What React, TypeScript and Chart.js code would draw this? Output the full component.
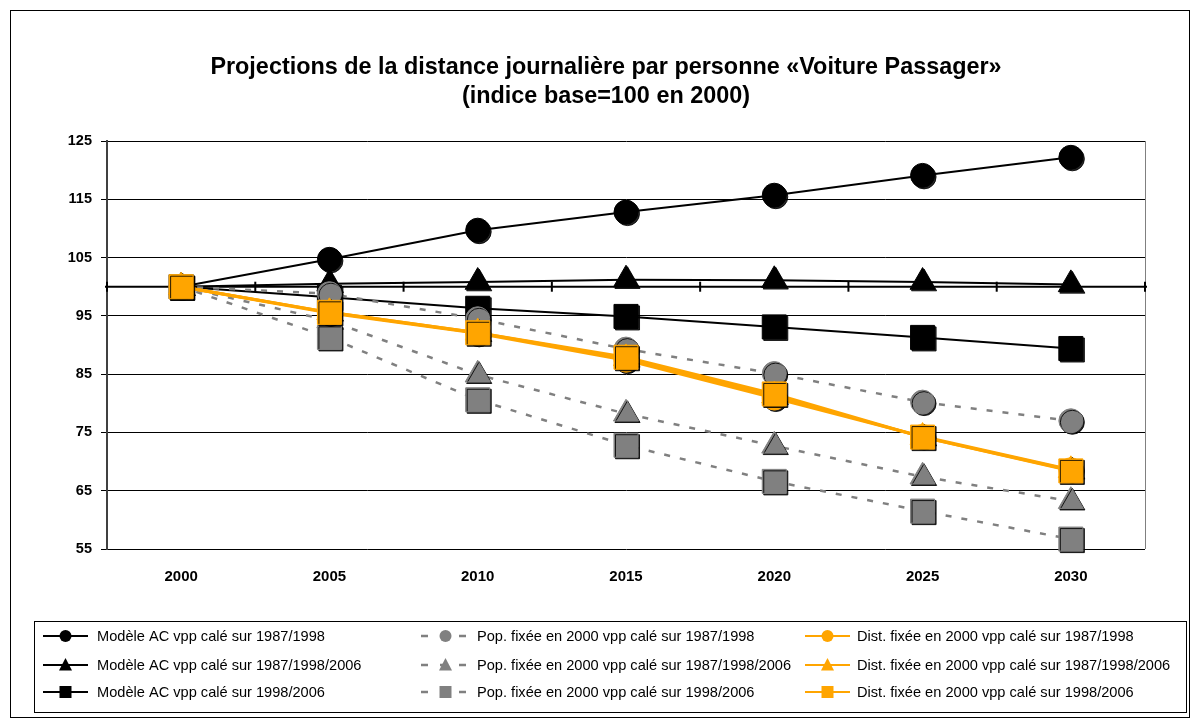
import React, { useEffect, useRef } from 'react';
import { Chart, registerables } from 'chart.js';

Chart.register(...registerables);

const FONT = '"Liberation Sans", Arial, Helvetica, sans-serif';

const titleLines = [
  'Projections de la distance journalière par personne «Voiture Passager»',
  '(indice base=100 en 2000)',
];

const years = ['2000', '2005', '2010', '2015', '2020', '2025', '2030'];
const yMin = 55;
const yMax = 125;
const yStep = 10;
const baseValue = 100;

const modeleCircle = [100, 104.7, 109.7, 112.8, 115.7, 119.1, 122.2];
const modeleTriangle = [100, 100.5, 100.8, 101.2, 101.1, 100.8, 100.4];
const modeleSquare = [100, 98.2, 96.3, 94.9, 93.1, 91.3, 89.4];
const popCircle = [100, 98.8, 94.5, 89.3, 85.1, 80.2, 77.0];
const popTriangle = [100, 94.2, 84.9, 78.2, 72.7, 67.4, 63.2];
const popSquare = [100, 91.3, 80.6, 72.8, 66.6, 61.5, 56.7];
const distCircle = [100, 95.5, 92.0, 87.4, 80.9, 74.3, 68.6];
const distTriangle = [100, 95.6, 92.1, 87.7, 81.3, 74.2, 68.5];
const distSquare = [100, 95.6, 92.1, 87.9, 81.6, 74.2, 68.4];

const labels = [
  'Modèle AC vpp calé sur 1987/1998',
  'Modèle AC vpp calé sur 1987/1998/2006',
  'Modèle AC vpp calé sur 1998/2006',
  'Pop. fixée en 2000 vpp calé sur 1987/1998',
  'Pop. fixée en 2000 vpp calé sur 1987/1998/2006',
  'Pop. fixée en 2000 vpp calé sur 1998/2006',
  'Dist. fixée en 2000 vpp calé sur 1987/1998',
  'Dist. fixée en 2000 vpp calé sur 1987/1998/2006',
  'Dist. fixée en 2000 vpp calé sur 1998/2006',
];

const seriesData = [
  modeleCircle, modeleTriangle, modeleSquare,
  popCircle, popTriangle, popSquare,
  distCircle, distTriangle, distSquare,
];

const BLACK = '#000000';
const GRAY = '#808080';
const ORANGE = '#FFA500';

type Style = { color: string; width: number; dash: number[]; marker: string; r: number };
const markerR: Record<string, number> = { circle: 12, triangle: 14.5, rect: 17 };
const markers = ['circle', 'triangle', 'rect'];
const groupStyle = [
  { color: BLACK, width: 2, dash: [] as number[] },
  { color: GRAY, width: 2.5, dash: [6, 10] },
  { color: ORANGE, width: 3, dash: [] as number[] },
];
const styles: Style[] = seriesData.map((_, i) => {
  const g = groupStyle[Math.floor(i / 3)];
  const m = markers[i % 3];
  return { ...g, marker: m, r: markerR[m] };
});

function legendMarker(ctx: CanvasRenderingContext2D, marker: string, x: number, y: number, color: string) {
  ctx.save();
  ctx.fillStyle = color;
  ctx.beginPath();
  if (marker === 'circle') {
    ctx.arc(x, y, 6, 0, Math.PI * 2);
  } else if (marker === 'triangle') {
    ctx.moveTo(x, y - 7);
    ctx.lineTo(x + 6.5, y + 5.5);
    ctx.lineTo(x - 6.5, y + 5.5);
    ctx.closePath();
  } else {
    ctx.rect(x - 6, y - 6, 12, 12);
  }
  ctx.fill();
  ctx.restore();
}

const decorPlugin = {
  id: 'decor',
  beforeDatasetsDraw(chart: any) {
    const { ctx, chartArea } = chart;
    const xs = chart.scales.x;
    const ys = chart.scales.y;
    const y100 = ys.getPixelForValue(baseValue);
    ctx.save();
    ctx.strokeStyle = GRAY;
    ctx.lineWidth = 1;
    ctx.beginPath();
    ctx.moveTo(Math.round(chartArea.right) + 0.5, chartArea.top);
    ctx.lineTo(Math.round(chartArea.right) + 0.5, chartArea.bottom);
    ctx.stroke();
    ctx.strokeStyle = BLACK;
    ctx.lineWidth = 2;
    ctx.beginPath();
    ctx.moveTo(chartArea.left - 2, y100);
    ctx.lineTo(chartArea.right + 2, y100);
    ctx.stroke();
    const half = (xs.getPixelForValue(1) - xs.getPixelForValue(0)) / 2;
    for (let i = 0; i <= years.length; i++) {
      const x = i < years.length ? xs.getPixelForValue(i) - half : xs.getPixelForValue(years.length - 1) + half;
      ctx.beginPath();
      ctx.moveTo(x, y100 - 5);
      ctx.lineTo(x, y100 + 5);
      ctx.stroke();
    }
    ctx.restore();
  },
  beforeDatasetDraw(chart: any, args: any) {
    const meta = args.meta;
    meta.data.forEach((pt: any) => {
      if (!pt.__shadowed) {
        const orig = pt.draw;
        pt.draw = function (c: CanvasRenderingContext2D, area: any) {
          c.save();
          c.shadowColor = 'rgba(0,0,0,0.85)';
          c.shadowOffsetX = 1.5;
          c.shadowOffsetY = 1.5;
          c.shadowBlur = 0;
          orig.call(this, c, area);
          c.restore();
        };
        pt.__shadowed = true;
      }
    });
  },
  afterDraw(chart: any) {
    const { ctx } = chart;
    ctx.save();
    ctx.strokeStyle = BLACK;
    ctx.lineWidth = 1;
    ctx.strokeRect(10.5, 10.5, 1179, 707);
    ctx.fillStyle = BLACK;
    ctx.font = `bold 23.4px ${FONT}`;
    ctx.textAlign = 'center';
    ctx.textBaseline = 'middle';
    ctx.fillText(titleLines[0], 606, 68);
    ctx.fillText(titleLines[1], 606, 97);
    ctx.strokeRect(34.5, 621.5, 1152, 91);
    const lineStart = [43, 423, 805];
    const textX = [97, 477, 857];
    const rowY = [636, 665, 692];
    ctx.font = `14.6px ${FONT}`;
    ctx.textAlign = 'left';
    chart.data.datasets.forEach((ds: any, i: number) => {
      const col = Math.floor(i / 3);
      const row = i % 3;
      const st = styles[i];
      const y = rowY[row];
      const x0 = lineStart[col];
      const x1 = x0 + 45;
      ctx.save();
      ctx.strokeStyle = st.color;
      ctx.lineWidth = col === 1 ? 2.5 : 2;
      if (col === 1) ctx.setLineDash([7, 12]);
      ctx.beginPath();
      ctx.moveTo(col === 1 ? x0 - 2 : x0, y);
      ctx.lineTo(x1, y);
      ctx.stroke();
      ctx.restore();
      legendMarker(ctx, st.marker, (x0 + x1) / 2, y, st.color);
      ctx.fillStyle = BLACK;
      ctx.fillText(ds.label, textX[col], y + 1);
    });
    ctx.restore();
  },
};

export default function App() {
  const ref = useRef<HTMLCanvasElement | null>(null);
  useEffect(() => {
    if (!ref.current) return;
    const chart = new Chart(ref.current, {
      type: 'line',
      data: {
        labels: years,
        datasets: seriesData.map((d, i) => ({
          label: labels[i],
          data: d,
          borderColor: styles[i].color,
          backgroundColor: styles[i].color,
          borderWidth: styles[i].width,
          borderDash: styles[i].dash,
          pointStyle: styles[i].marker as any,
          pointRadius: styles[i].r,
          pointHoverRadius: styles[i].r,
          pointBackgroundColor: styles[i].color,
          pointBorderColor: styles[i].color,
          pointBorderWidth: 1,
          tension: 0,
          fill: false,
          clip: false as any,
          order: 9 - i,
        })),
      },
      options: {
        animation: false,
        responsive: true,
        maintainAspectRatio: false,
        layout: { padding: { left: 47, right: 48, top: 141, bottom: 129 } },
        plugins: {
          legend: { display: false },
          title: { display: false },
          tooltip: { enabled: false },
        },
        scales: {
          x: {
            type: 'category',
            offset: true,
            grid: { display: false, drawTicks: false },
            border: { display: false },
            ticks: { font: { family: FONT, size: 15, weight: 'bold' }, color: BLACK, padding: 19, maxRotation: 0 },
            afterFit: (s: any) => { s.height = 50; },
          },
          y: {
            min: yMin,
            max: yMax,
            ticks: { stepSize: yStep, font: { family: FONT, size: 14.5, weight: 'bold' }, color: BLACK, padding: 9 },
            grid: { color: BLACK, lineWidth: 1, tickLength: 6, drawTicks: true },
            border: { display: true, color: '#404040', width: 2 },
            afterFit: (s: any) => { s.width = 60; },
          },
        },
      },
      plugins: [decorPlugin],
    });
    return () => chart.destroy();
  }, []);
  return (
    <div style={{ position: 'absolute', left: 0, top: 0, width: 1193, height: 728, background: '#fff' }}>
      <canvas ref={ref} />
    </div>
  );
}
